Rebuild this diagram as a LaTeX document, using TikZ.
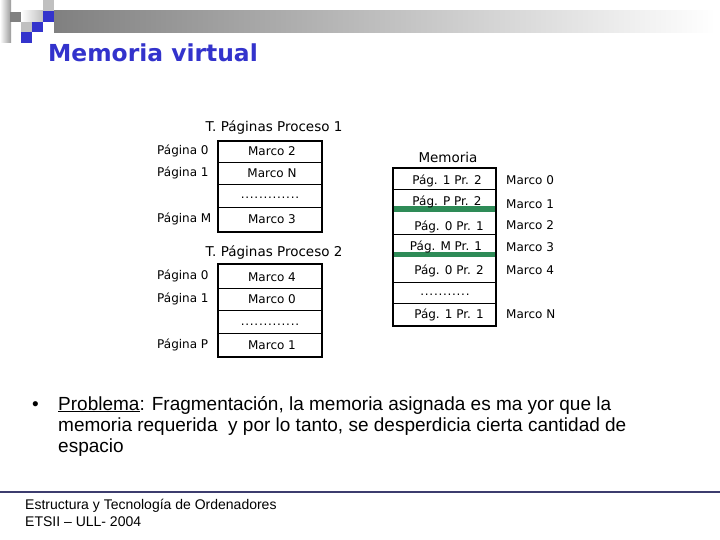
\documentclass[tikz,border=0pt]{standalone}
\usepackage{fontspec}
\setmainfont{Liberation Sans}
\newfontfamily\tah{DejaVu Sans}
\newfontfamily\tahb{DejaVu Sans Bold}
\definecolor{slideblue}{RGB}{51,51,204}
\definecolor{sqgray}{RGB}{128,128,128}
\definecolor{sqlight}{RGB}{192,192,192}
\definecolor{memgreen}{RGB}{46,139,87}
\definecolor{footblue}{RGB}{60,60,110}
\begin{document}
\begin{tikzpicture}[x=1pt,y=-1pt,
  cell/.style={font=\tah\fontsize{12}{14}\selectfont, inner sep=0pt, anchor=base},
  lab/.style={font=\tah\fontsize{12}{14}\selectfont, inner sep=0pt, anchor=base west},
  ttl/.style={font=\tah\fontsize{13.5}{16}\selectfont, inner sep=0pt, anchor=base},
  dots/.style={font=\tah\fontsize{12}{14}\selectfont\addfontfeature{LetterSpace=6}, inner sep=0pt, anchor=base},
  frame/.style={line width=2.5pt, draw=black},
  sep/.style={line width=0.8pt, draw=black},
  gsep/.style={line width=5.5pt, draw=memgreen},
  body/.style={font=\fontsize{19}{21}\selectfont, inner sep=0pt, anchor=base west},
  foot/.style={font=\fontsize{14}{17}\selectfont, inner sep=0pt, anchor=base west}]
\useasboundingbox (0,0) rectangle (720,540);
\fill[white] (0,0) rectangle (720,540);
% header decoration
\shade[left color=sqgray, right color=white] (54,11) rectangle (715,33);
\shade[left color=white, right color=sqlight] (21,11) rectangle (43,22);
\shade[left color=white, right color=sqgray!80] (0,0) rectangle (11,43);
\fill[sqgray] (10,12) rectangle (21,22);
\fill[sqlight] (43,0) rectangle (54,11);
\fill[slideblue] (43,11) rectangle (54,22);
\fill[sqlight] (21,22) rectangle (32,32);
\fill[slideblue] (32,22) rectangle (43,32);
\fill[slideblue] (21,32) rectangle (32,43);
\node[font=\tahb\fontsize{23.4}{26}\selectfont, text=slideblue, inner sep=0pt, anchor=base west] (title) at (48,62) {Memoria virtual};

% Tabla proceso 1
\node[ttl] (t1) at (274,131.5) {T. Páginas Proceso 1};
\draw[sep] (218,162) -- (322,162) (218,184) -- (322,184) (218,207) -- (322,207);
\draw[frame] (218,141) rectangle (322,232);
\node[cell] (p1c1) at (272,156) {Marco 2};
\node[cell] (p1c2) at (272,177.5) {Marco N};
\node[dots] (p1c3) at (270,199) {.............};
\node[cell] (p1c4) at (272,223.5) {Marco 3};
\node[lab] (p1l1) at (157,155) {Página 0};
\node[lab] (p1l2) at (157,176.5) {Página 1};
\node[lab] (p1l3) at (157,222.5) {Página M};

% Tabla proceso 2
\node[ttl] (t2) at (274,256.5) {T. Páginas Proceso 2};
\draw[sep] (218,288) -- (322,288) (218,310) -- (322,310) (218,333) -- (322,333);
\draw[frame] (218,264) rectangle (322,357);
\node[cell] (p2c1) at (272,281) {Marco 4};
\node[cell] (p2c2) at (272,303.5) {Marco 0};
\node[dots] (p2c3) at (270,325) {.............};
\node[cell] (p2c4) at (272,349) {Marco 1};
\node[lab] (p2l1) at (157,279.5) {Página 0};
\node[lab] (p2l2) at (157,302.5) {Página 1};
\node[lab] (p2l3) at (157,348.5) {Página P};

% Memoria
\node[ttl] (mem) at (448,162.5) {Memoria};
\draw[sep] (393,189) -- (496,189) (393,234) -- (496,234) (393,282) -- (496,282) (393,303) -- (496,303);
\draw[gsep] (393,209) -- (496,209);
\draw[gsep] (393,254.5) -- (496,254.5);
\draw[frame] (393,168) rectangle (496,326);
\node[cell] (m0) at (447,184.5) {Pág. 1 Pr. 2};
\node[cell] (m1) at (447,205.5) {Pág. P Pr. 2};
\node[cell] (m2) at (449,230.5) {Pág. 0 Pr. 1};
\node[cell] (m3) at (446,250.5) {Pág. M Pr. 1};
\node[cell] (m4) at (449,274.5) {Pág. 0 Pr. 2};
\node[dots] (m5) at (445,295) {...........};
\node[cell] (m6) at (449,318.5) {Pág. 1 Pr. 1};
\node[lab] (f0) at (506,184.5) {Marco 0};
\node[lab] (f1) at (506,208.5) {Marco 1};
\node[lab] (f2) at (506,229.5) {Marco 2};
\node[lab] (f3) at (506,251.5) {Marco 3};
\node[lab] (f4) at (506,274.5) {Marco 4};
\node[lab] (fN) at (506,318.5) {Marco N};

% Texto
\node[body] (bul) at (32,410) {•};
\node[body] (b1) at (58,410) {\underline{Problema}: Fragmentación, la memoria asignada es ma yor que la};
\node[body] (b2) at (58,431) {memoria requerida \ y por lo tanto, se desperdicia cierta cantidad de};
\node[body] (b3) at (58,452) {espacio};

% Pie
\draw[line width=1.2pt, draw=footblue] (0,492) -- (720,492);
\node[foot] (pie1) at (25,509) {Estructura y Tecnología de Ordenadores};
\node[foot] (pie2) at (25,526) {ETSII – ULL- 2004};
\end{tikzpicture}
\end{document}
